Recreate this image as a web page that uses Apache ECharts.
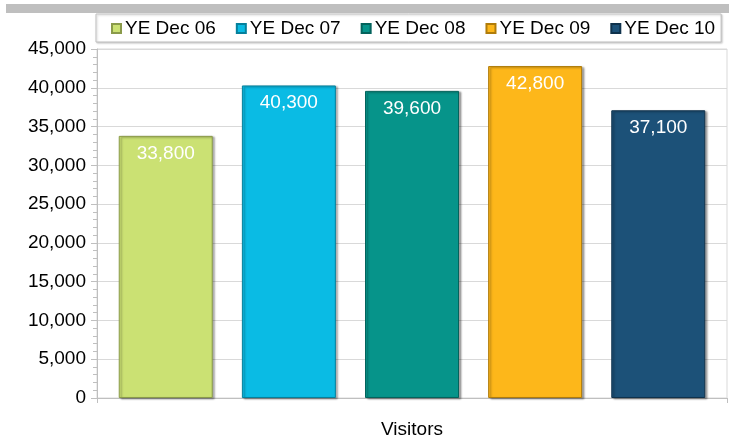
<!DOCTYPE html>
<html>
<head>
<meta charset="utf-8">
<script src="https://cdn.jsdelivr.net/npm/echarts@6/dist/echarts.min.js"></script>
<style>
  html, body { margin: 0; padding: 0; background: #fff; }
  #chart { width: 729px; height: 439px; }
</style>
</head>
<body>
<div id="chart"></div>
<script>
// 数据
const categories = ['Visitors'];
const seriesNames = ['YE Dec 06', 'YE Dec 07', 'YE Dec 08', 'YE Dec 09', 'YE Dec 10'];
const visitorValues = [33800, 40300, 39600, 42800, 37100];
const yTicks = [0, 5000, 10000, 15000, 20000, 25000, 30000, 35000, 40000, 45000];

// 颜色
const palette = ['#CBE173', '#0ABBE4', '#06948A', '#FDB71A', '#1C5178'];
const edgeColors = ['#8A9A4A', '#05809C', '#03635C', '#B07C0A', '#0F324C'];

const FONT = '"Liberation Sans", Arial, sans-serif';

const myChart = echarts.init(document.getElementById('chart'));

const series = seriesNames.map((name, i) => ({
    name: name,
    type: 'bar',
    barWidth: 94,
    barGap: '31%',
    data: [visitorValues[i]],
    itemStyle: {
        color: palette[i],
        borderColor: edgeColors[i],
        borderWidth: 1,
        shadowColor: 'rgba(0,0,0,0.35)',
        shadowBlur: 2,
        shadowOffsetX: 2,
        shadowOffsetY: 1
    },
    label: {
        show: true,
        position: 'insideTop',
        distance: 8,
        color: '#fff',
        fontSize: 19,
        fontFamily: FONT,
        formatter: (p) => p.value.toLocaleString('en-US')
    }
}));

const options = {
    animation: false,
    color: palette,
    graphic: [
        {
            type: 'rect',
            shape: { x: 6, y: 4, width: 723, height: 9 },
            style: { fill: '#BFBFBF' }
        }
    ],
    legend: {
        top: 14,
        left: 96,
        icon: 'rect',
        itemWidth: 9,
        itemHeight: 9,
        itemGap: 20,
        padding: [5, 6, 4, 15],
        borderColor: '#BFBFBF',
        borderWidth: 1,
        shadowColor: 'rgba(0,0,0,0.2)',
        shadowBlur: 2,
        shadowOffsetX: 1,
        shadowOffsetY: 1,
        backgroundColor: '#fff',
        textStyle: {
            color: '#000',
            fontSize: 19,
            fontFamily: FONT,
            padding: [0, 0, 0, -1]
        },
        data: seriesNames
    },
    grid: {
        left: 97,
        right: 2,
        top: 49,
        bottom: 37,
        show: true,
        borderColor: '#D9D9D9',
        borderWidth: 1
    },
    xAxis: {
        type: 'category',
        data: categories,
        axisLine: { lineStyle: { color: '#BFBFBF' } },
        axisTick: { show: true, length: 5, lineStyle: { color: '#BFBFBF' } },
        axisLabel: {
            color: '#000',
            fontSize: 19,
            fontFamily: FONT,
            margin: 22
        }
    },
    yAxis: {
        type: 'value',
        min: yTicks[0],
        max: yTicks[yTicks.length - 1],
        interval: 5000,
        axisLine: { show: true, lineStyle: { color: '#BFBFBF' } },
        axisTick: { show: true, length: 6, lineStyle: { color: '#BFBFBF' } },
        minorTick: { show: true, splitNumber: 5, length: 4, lineStyle: { color: '#BFBFBF' } },
        splitLine: { lineStyle: { color: '#D9D9D9' } },
        axisLabel: {
            color: '#000',
            fontSize: 19,
            fontFamily: FONT,
            margin: 11,
            formatter: (v) => v.toLocaleString('en-US')
        }
    },
    series: series
};

myChart.setOption(options);
</script>
</body>
</html>
